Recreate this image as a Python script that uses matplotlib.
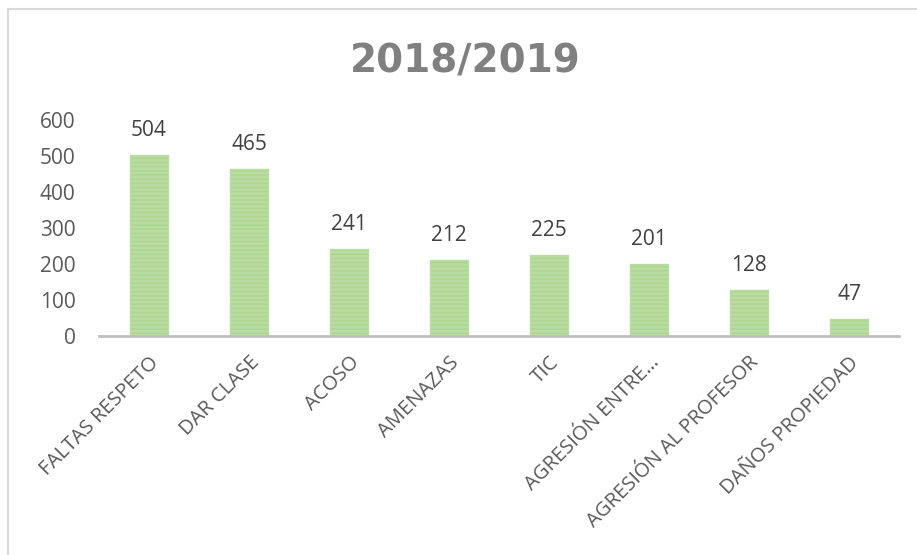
import matplotlib.pyplot as plt
from matplotlib.patches import Rectangle

categories = ["FALTAS RESPETO", "DAR CLASE", "ACOSO", "AMENAZAS", "TIC",
              "AGRESIÓN ENTRE…", "AGRESIÓN AL PROFESOR", "DAÑOS PROPIEDAD"]
values = [504, 465, 241, 212, 225, 201, 128, 47]
yticks = [0, 100, 200, 300, 400, 500, 600]

plt.rcParams['font.family'] = ['Open Sans', 'DejaVu Sans']
plt.rcParams['hatch.linewidth'] = 2.0
plt.rcParams['hatch.color'] = '#70ad47'

fig = plt.figure(figsize=(9.17, 5.55), dpi=100)
# chart frame
fig.patches.append(Rectangle((8 / 917, -0.1), 1.2, (555 - 9) / 555 + 0.1,
                             transform=fig.transFigure, fill=False,
                             edgecolor='#d9d9d9', linewidth=1.5))

ax = fig.add_axes([99 / 917, (555 - 336) / 555, 800 / 917, 216 / 555])
x = range(len(categories))
ax.bar(x, values, width=0.38, color='#acd690', edgecolor='#b9dca0',
       linewidth=1, hatch='----')
ax.set_xlim(-0.5, len(categories) - 0.5)
ax.set_ylim(0, 600)
ax.set_yticks(yticks)
ax.set_yticklabels([str(t) for t in yticks], fontsize=15, color='#595959')
ax.tick_params(axis='y', length=0, pad=17)
ax.tick_params(axis='x', length=0, pad=12)
ax.set_xticks(list(x))
ax.set_xticklabels(categories, rotation=45, ha='right', va='top',
                   rotation_mode='anchor', fontsize=14.5, color='#595959')
for s in ['top', 'right', 'left']:
    ax.spines[s].set_visible(False)
ax.spines['bottom'].set_color('#bfbfbf')
ax.spines['bottom'].set_linewidth(2)

for xi, v in zip(x, values):
    ax.annotate(str(v), (xi, v), xytext=(0, 14), textcoords='offset pixels',
                ha='center', va='bottom', fontsize=15, color='#404040')

fig.text(465 / 917, 1 - 61 / 555, "2018/2019", ha='center', va='center',
         fontsize=28, fontweight='bold', color='#808080',
         family='DejaVu Sans')

fig.savefig('out.png', dpi=100)
